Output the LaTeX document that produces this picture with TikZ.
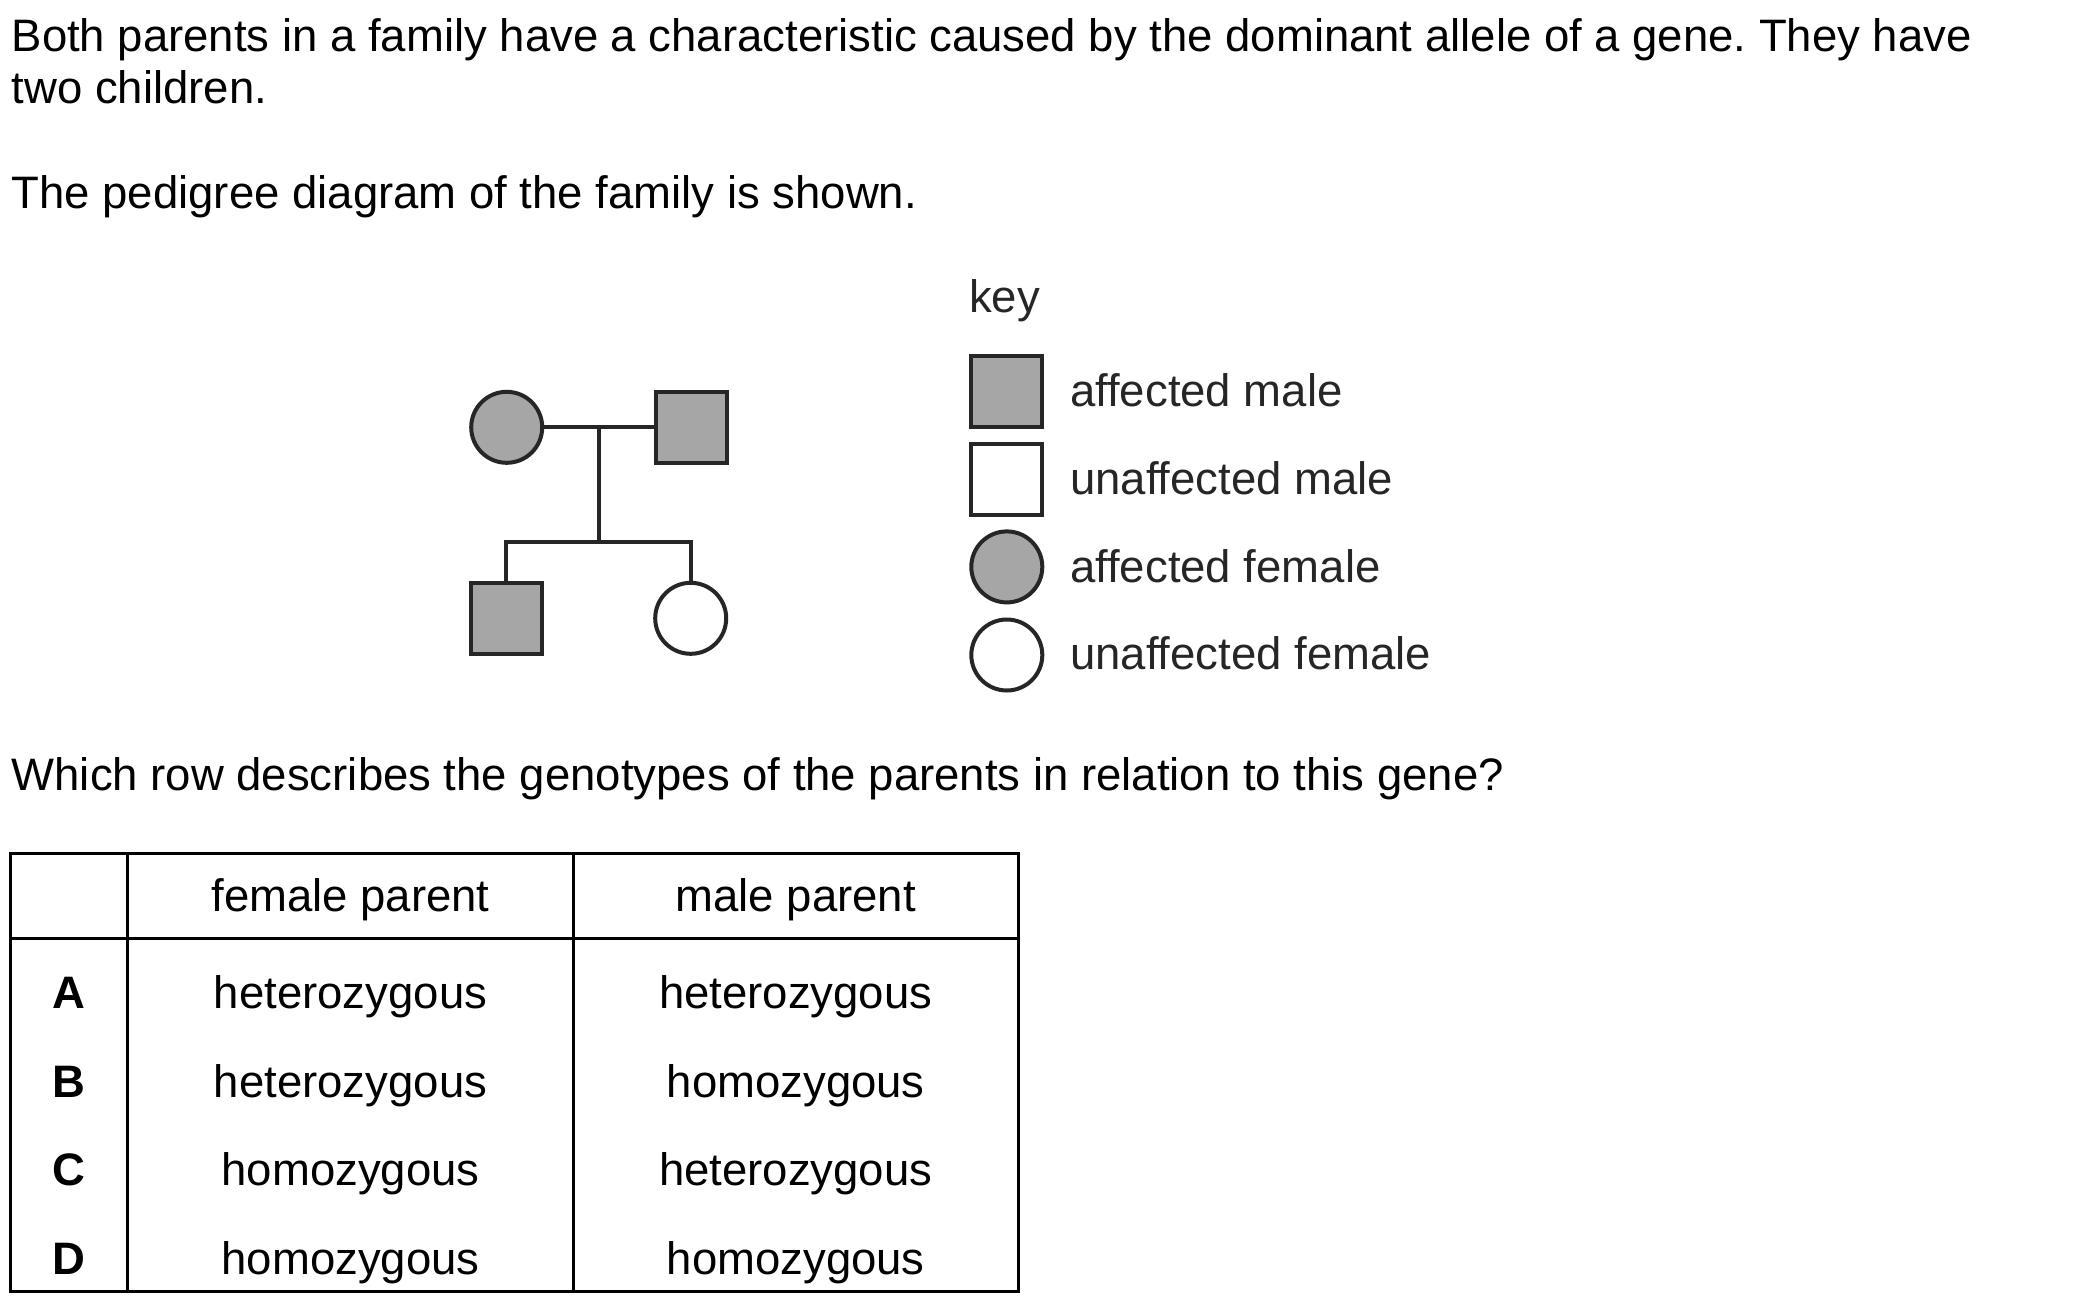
\documentclass[tikz,border=0pt]{standalone}
\usepackage{fontspec}
\setmainfont{Liberation Sans}
\usetikzlibrary{calc}
\definecolor{affgray}{RGB}{166,166,166}
\definecolor{inkline}{RGB}{38,38,38}
\frenchspacing
\begin{document}
\begin{tikzpicture}[x=1pt,y=-1pt,
  txt/.style={anchor=base west,inner sep=0pt,font=\fontsize{45.5}{50}\selectfont,text=black},
  keytxt/.style={anchor=base west,inner sep=0pt,font=\fontsize{45.5}{50}\selectfont,text=inkline},
  celltxt/.style={anchor=base,inner sep=0pt,font=\fontsize{45.5}{50}\selectfont,text=black},
  rowlet/.style={anchor=base,inner sep=0pt,font=\fontsize{45.5}{50}\selectfont\bfseries,text=black},
  malebox/.style={draw=inkline,line width=4pt,rectangle,minimum size=71pt,inner sep=0pt},
  femcirc/.style={draw=inkline,line width=4pt,circle,minimum size=71pt,inner sep=0pt},
  affected/.style={fill=affgray},
  unaffected/.style={fill=white},
  link/.style={draw=inkline,line width=4pt},
  tabline/.style={draw=black,line width=3pt}
]
\useasboundingbox (0,0) rectangle (2100,1304);

% question text
\node[txt] (l1) at (11.5,51.7) {Both parents in a family have a characteristic caused by the dominant allele of a gene. They have};
\node[txt] (l2) at (11.5,103.5) {two children.};
\node[txt] (l3) at (11.5,208.3) {The pedigree diagram of the family is shown.};
\node[txt] (l4) at (11.5,790) {Which row describes the genotypes of the parents in relation to this gene?};

% pedigree
\node[femcirc,affected] (f1) at (506.7,427.3) {};
\node[malebox,affected] (m1) at (691.8,427.3) {};
\node[malebox,affected] (c1) at (506.3,618.3) {};
\node[femcirc,unaffected] (c2) at (690.7,618.3) {};
\draw[link] (f1) -- (m1);
\coordinate (mid) at ($(f1)!0.5!(m1)$);
\coordinate (sib) at ($(mid)+(0,115)$);
\draw[link] (mid) -- (sib);
\draw[link] (c1.north) |- (sib) -| (c2.north);

% key
\node[keytxt] (keyt) at (969,312.5) {key};
\node[malebox,affected] (k1) at (1006.8,391.2) {};
\node[malebox,unaffected] (k2) at (1006.8,479.2) {};
\node[femcirc,affected] (k3) at (1006.8,566.9) {};
\node[femcirc,unaffected] (k4) at (1006.8,655) {};
\node[keytxt] (k1t) at (1070,406.5) {affected male};
\node[keytxt] (k2t) at (1070,494.3) {unaffected male};
\node[keytxt] (k3t) at (1070,582) {affected female};
\node[keytxt] (k4t) at (1070,669.5) {unaffected female};

% table
\draw[tabline] (10,853.3) rectangle (1018,1291.5);
\draw[tabline] (127.3,853.3) -- (127.3,1291.5);
\draw[tabline] (573.5,853.3) -- (573.5,1291.5);
\draw[tabline] (10,938.5) -- (1018,938.5);
\node[celltxt] (h1) at (350.5,911.7) {female parent};
\node[celltxt] (h2) at (795.7,911.7) {male parent};
\node[rowlet] (ra) at (68.5,1008.5) {A};
\node[rowlet] (rb) at (68.5,1097) {B};
\node[rowlet] (rc) at (68.5,1185.5) {C};
\node[rowlet] (rd) at (68.5,1274) {D};
\node[celltxt] (a1) at (350.5,1008.5) {heterozygous};
\node[celltxt] (a2) at (795.7,1008.5) {heterozygous};
\node[celltxt] (b1) at (350.5,1097) {heterozygous};
\node[celltxt] (b2) at (795.7,1097) {homozygous};
\node[celltxt] (c1t) at (350.5,1185.5) {homozygous};
\node[celltxt] (c2t) at (795.7,1185.5) {heterozygous};
\node[celltxt] (d1) at (350.5,1274) {homozygous};
\node[celltxt] (d2) at (795.7,1274) {homozygous};
\end{tikzpicture}
\end{document}
